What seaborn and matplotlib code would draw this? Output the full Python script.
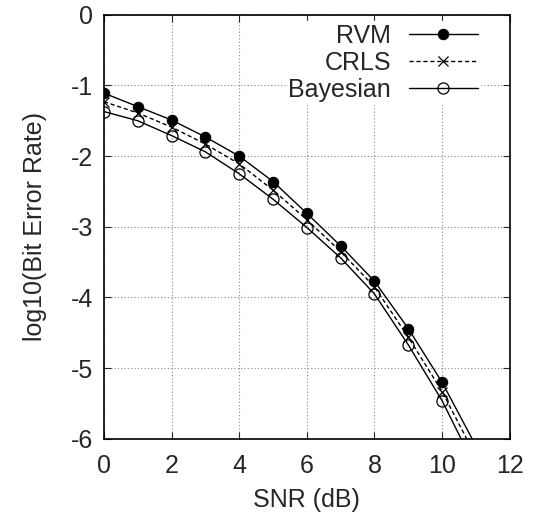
import pandas as pd
import seaborn as sns
import matplotlib.pyplot as plt

# SNR values (dB) and log10(BER) per detector
snr = [0, 1, 2, 3, 4, 5, 6, 7, 8, 9, 10, 11]
rvm = [-1.11, -1.30, -1.49, -1.73, -2.00, -2.36, -2.81, -3.27, -3.77, -4.44, -5.20, -6.10]
crls = [-1.23, -1.39, -1.59, -1.83, -2.11, -2.48, -2.90, -3.35, -3.85, -4.56, -5.33, -6.25]
bayesian = [-1.37, -1.50, -1.71, -1.94, -2.25, -2.61, -3.01, -3.44, -3.95, -4.67, -5.46, -6.42]

data = pd.DataFrame({'SNR': snr, 'RVM': rvm, 'CRLS': crls, 'Bayesian': bayesian})

# Setting plot properties.
sns.set_style('ticks')
plt.rcParams['font.family'] = ['Liberation Sans', 'DejaVu Sans']
plt.rcParams['axes.unicode_minus'] = False
fs = 18
fig = plt.figure(figsize=(5.36, 5.25), dpi=100)
ax = fig.add_axes([0.194, 0.164, 0.757, 0.808])

shown = list(range(11))
sns.lineplot(data=data, x='SNR', y='RVM', ax=ax, color='black', linewidth=1,
             marker='o', markersize=7.5, markerfacecolor='black', markeredgecolor='black',
             markevery=shown, label='RVM')
sns.lineplot(data=data, x='SNR', y='CRLS', ax=ax, color='black', linewidth=1,
             linestyle=(0, (3, 2)), marker='x', markersize=7, markeredgewidth=0.9,
             markeredgecolor='black', markevery=shown, label='CRLS')
sns.lineplot(data=data, x='SNR', y='Bayesian', ax=ax, color='black', linewidth=1,
             marker='o', markersize=8, markerfacecolor='none', markeredgecolor='black',
             markeredgewidth=0.9, markevery=shown, label='Bayesian')

# Configuring axis.
ax.set_xlim(0, 12)
ax.set_ylim(-6, 0)
ax.set_xticks(range(0, 13, 2))
ax.set_yticks(range(-6, 1))
ax.grid(True, linestyle=(0, (1, 2)), color='#888888', linewidth=0.8)
ax.tick_params(direction='in', top=True, right=True, labelsize=fs, length=5, width=0.8)
ax.tick_params(axis='x', pad=11)
ax.tick_params(axis='y', pad=8)
for s in ax.spines.values():
    s.set_linewidth(1.2)
    s.set_color('black')
ax.set_xlabel('SNR (dB)', fontsize=fs, labelpad=7)
ax.set_ylabel('log10(Bit Error Rate)', fontsize=fs, labelpad=17)

# Legend in gnuplot style: label first, no frame.
leg = ax.legend(loc='upper right', bbox_to_anchor=(0.927, 0.985), markerfirst=False,
                frameon=True, fontsize=fs, handlelength=2.76, labelspacing=0.12,
                borderaxespad=0, handletextpad=0.7, fancybox=False, borderpad=0.1)
leg.get_frame().set_edgecolor('white')
leg.get_frame().set_alpha(1)

fig.savefig('out.png', dpi=100)
